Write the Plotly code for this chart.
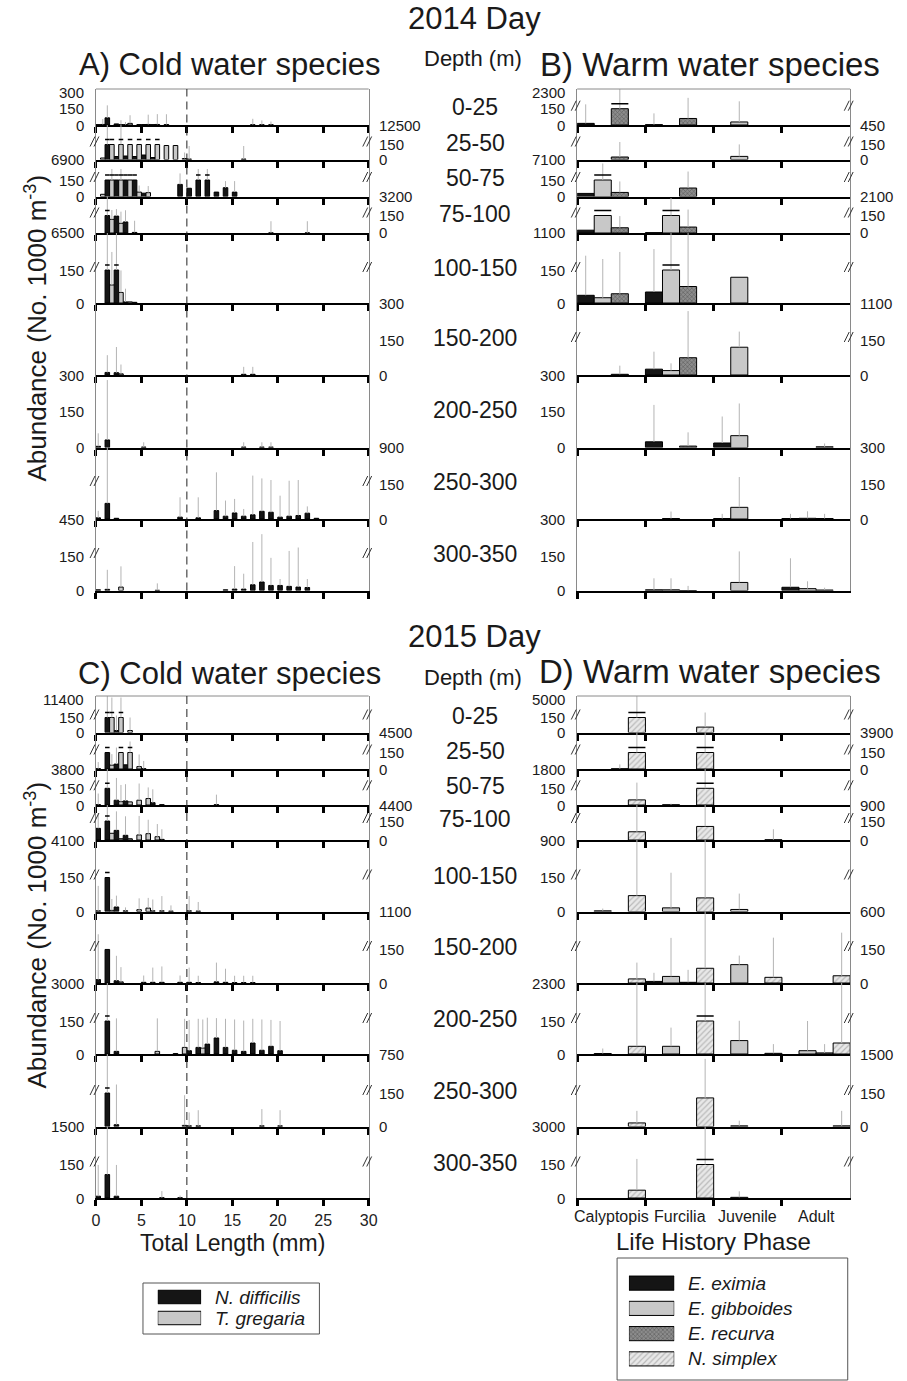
import plotly.graph_objects as go

# ---------------------------------------------------------------- data
DEPTHS = ["0-25", "25-50", "50-75", "75-100", "100-150", "150-200", "200-250", "250-300", "300-350"]
LENGTH_TICKS = [0, 5, 10, 15, 20, 25, 30]
PHASES = ["Calyptopis", "Furcilia", "Juvenile", "Adult"]
COLD_SPECIES = ["N. difficilis", "T. gregaria"]
WARM_SPECIES = ["E. eximia", "E. gibboides", "E. recurva", "N. simplex"]

# upper values of the broken axes (printed at the baseline of each depth row)
A_BREAK_LABELS = ["12500", "6900", "3200", "6500", "300", "300", "900", "450", None]
B_BREAK_LABELS = ["450", "7100", "2100", "1100", "1100", "300", "300", "300", None]
C_BREAK_LABELS = ["4500", "3800", "4400", "4100", "1100", "3000", "750", "1500", None]
D_BREAK_LABELS = ["3900", "1800", "900", "900", "600", "2300", "1500", "3000", None]
TOP_LABELS = {"A": "300", "B": "2300", "C": "11400", "D": "5000"}
BROKEN_A = [False, True, True, True, True, False, False, True, True]
BROKEN_B = [True, True, True, True, True, True, False, False, False]
BROKEN_C = [True] * 9
BROKEN_D = [True] * 9

# 2014 cold water species: {length bin (mm): abundance}, one dict per depth row
A_NDIF = [
    {0: 3, 1: 66, 2: 10, 3: 3, 5: 4, 6: 3, 17: 2, 18: 2, 19: 2},
    {1: 6900, 2: 30, 3: 35, 4: 30, 5: 45, 6: 20, 10: 5, 16: 5},
    {1: 3200, 2: 2500, 3: 1500, 4: 1200, 5: 30, 9: 110, 10: 75, 11: 900, 12: 800, 13: 40, 14: 80, 15: 40},
    {1: 6500, 2: 145, 3: 95, 4: 5, 19: 1, 23: 1},
    {1: 1500, 2: 1200, 3: 5, 4: 3},
    {1: 11, 2: 10, 16: 3, 17: 3},
    {0: 5, 1: 32, 5: 2, 16: 2, 18: 2, 19: 2},
    {0: 5, 1: 67, 2: 3, 9: 8, 11: 5, 13: 36, 14: 12, 15: 26, 16: 12, 17: 18, 18: 33, 19: 29,
     20: 8, 21: 12, 22: 15, 23: 25, 24: 3},
    {0: 3, 1: 5, 14: 3, 15: 6, 16: 6, 17: 25, 18: 37, 19: 22, 20: 22, 21: 18, 22: 15, 23: 13},
]
A_NDIF_SE = [
    {1: 115, 3: 25, 17: 55, 18: 40, 19: 30},
    {1: 300, 10: 130, 16: 130},
    {9: 100, 11: 100, 12: 100, 14: 60, 15: 100},
    {1: 200, 2: 60, 3: 100, 4: 100, 19: 100, 23: 100},
    {1: 300, 2: 200, 3: 60},
    {1: 74, 2: 110, 16: 32, 17: 32},
    {0: 55, 1: 253, 5: 20, 16: 20, 18: 20, 19: 20},
    {0: 30, 1: 300, 9: 85, 11: 88, 13: 164, 14: 67, 15: 60, 16: 31, 17: 168, 18: 141, 19: 138,
     20: 92, 21: 152, 22: 152, 23: 29},
    {1: 85, 15: 100, 16: 67, 17: 186, 18: 208, 19: 120, 20: 28, 21: 154, 22: 172, 23: 37},
]
A_TGRE = [
    {0: 5, 2: 4, 3: 15, 4: 4, 5: 5, 6: 5, 7: 4},
    {0: 15, 1: 2500, 2: 2800, 3: 2200, 4: 2000, 5: 2100, 6: 1800, 7: 140, 8: 140, 9: 10},
    {0: 20, 1: 600, 2: 1200, 3: 500, 4: 40, 5: 35},
    {1: 117, 2: 83},
    {1: 82, 2: 48, 3: 5},
    {2: 5},
    {},
    {},
    {2: 15, 6: 1},
]
A_TGRE_SE = [
    {0: 50, 2: 40, 3: 75, 5: 90, 6: 95, 7: 95},
    {2: 300, 9: 60},
    {1: 100, 2: 100, 4: 60, 5: 60},
    {1: 80, 2: 100},
    {1: 150, 2: 100},
    {2: 40},
    {},
    {},
    {2: 90, 6: 30},
]

# 2015 cold water species
C_NDIF = [
    {1: 5000, 2: 20},
    {0: 3, 1: 3800, 2: 45, 3: 38, 5: 3},
    {0: 3, 1: 4400, 2: 43, 3: 37, 6: 21, 7: 3, 13: 3},
    {0: 92, 1: 4100, 2: 76, 3: 37, 7: 5},
    {0: 3, 1: 1100, 2: 20, 3: 3, 6: 3, 7: 3, 8: 2, 10: 3, 11: 2},
    {0: 15, 1: 148, 2: 10, 5: 3, 6: 3, 7: 3, 9: 3, 10: 3, 11: 2, 13: 5, 14: 3, 15: 2, 16: 2, 17: 2},
    {1: 3000, 2: 12, 10: 15, 11: 30, 12: 45, 13: 73, 14: 30, 15: 17, 16: 12, 17: 50, 18: 17, 19: 35, 20: 15},
    {1: 1500, 2: 8, 10: 3, 11: 3, 18: 3, 20: 3},
    {0: 8, 1: 105, 2: 8, 7: 1, 9: 1},
]
C_NDIF_SE = [
    {1: 300, 2: 150},
    {0: 60, 2: 150, 5: 70},
    {0: 100, 1: 200, 2: 200, 3: 150, 6: 120, 13: 90},
    {0: 120, 1: 200, 2: 150, 3: 150, 7: 80},
    {0: 110, 2: 50, 3: 15, 6: 50, 7: 65, 8: 25, 10: 65, 11: 40},
    {0: 200, 2: 110, 5: 30, 6: 65, 7: 70, 9: 30, 10: 65, 11: 30, 13: 85, 14: 60, 15: 30, 16: 30, 17: 30},
    {1: 200, 2: 150, 10: 140, 11: 130, 12: 120, 13: 90, 14: 130, 15: 140, 16: 140, 17: 110, 18: 140,
     19: 120, 20: 135},
    {1: 200, 2: 180, 10: 60, 11: 70, 18: 75, 20: 70},
    {0: 140, 1: 250, 2: 140, 7: 30, 9: 10},
]
C_TGRE = [
    {1: 3000, 2: 2500, 3: 20},
    {1: 35, 2: 2000, 3: 1500, 4: 22},
    {2: 30, 3: 28, 4: 43, 5: 58},
    {1: 53, 2: 10, 3: 10, 4: 40, 5: 50, 6: 26},
    {1: 5, 4: 8, 5: 15},
    {2: 5},
    {6: 12, 8: 2, 9: 30, 11: 27},
    {9: 5},
    {},
]
C_TGRE_SE = [
    {1: 200, 2: 200, 3: 130},
    {1: 100, 3: 100, 4: 110},
    {2: 150, 4: 150, 5: 100},
    {4: 150, 5: 110, 6: 100},
    {1: 50, 4: 50, 5: 45},
    {2: 65},
    {6: 150, 9: 130, 11: 130},
    {9: 135},
    {},
]

# 2014 warm water species: rows = depth, columns = Calyptopis, Furcilia, Juvenile, Adult
B_EXIM = [[15, 3, 0, 0], [0, 0, 0, 0], [28, 0, 0, 0], [24, 3, 0, 0], [35, 50, 0, 0],
          [0, 25, 0, 0], [0, 24, 19, 0], [0, 0, 2, 2], [0, 3, 0, 14]]
B_EXIM_SE = [[175, 104, 0, 0], [0, 0, 0, 0], [0, 0, 0, 0], [0, 0, 0, 0], [180, 195, 0, 0],
             [0, 75, 0, 0], [0, 156, 112, 0], [0, 0, 20, 20], [0, 50, 0, 126]]
B_GIBB = [[0, 0, 28, 0], [0, 0, 31, 0], [900, 0, 0, 0], [700, 600, 0, 0], [24, 400, 117, 0],
          [0, 19, 119, 0], [0, 0, 50, 0], [0, 2, 50, 3], [0, 3, 35, 8]]
B_GIBB_SE = [[0, 0, 190, 0], [0, 0, 120, 0], [150, 0, 0, 0], [0, 150, 0, 0], [176, 300, 0, 0],
             [0, 31, 67, 0], [0, 0, 136, 0], [0, 30, 130, 30], [0, 50, 135, 32]]
B_RECU = [[600, 60, 0, 0], [25, 0, 0, 0], [37, 77, 0, 0], [45, 51, 0, 0], [42, 75, 0, 0],
          [3, 74, 0, 0], [0, 6, 0, 3], [0, 0, 0, 2], [0, 0, 0, 2]]
B_RECU_SE = [[300, 190, 0, 0], [150, 0, 0, 0], [100, 150, 0, 0], [100, 150, 0, 0], [190, 300, 0, 0],
             [37, 200, 0, 0], [0, 58, 0, 14], [0, 0, 0, 20], [0, 20, 0, 10]]
B_SIMP = [[0, 0, 0, 0] for _ in range(9)]
B_SIMP_SE = [[0, 0, 0, 0] for _ in range(9)]

# 2015 warm water species
D_EXIM = [[0, 0, 0, 0], [0, 0, 0, 0], [0, 0, 0, 0], [0, 0, 0, 0], [0, 0, 0, 0],
          [0, 7, 0, 0], [0, 0, 0, 0], [0, 0, 0, 0], [0, 0, 0, 0]]
D_EXIM_SE = [[0, 0, 0, 0], [0, 0, 0, 0], [0, 0, 0, 0], [0, 0, 0, 0], [0, 0, 0, 0],
             [0, 38, 0, 0], [0, 0, 0, 0], [0, 0, 0, 0], [0, 0, 0, 0]]
D_GIBB = [[0, 0, 0, 0], [0, 0, 0, 0], [0, 2, 0, 0], [0, 0, 0, 0], [3, 16, 9, 0],
          [0, 29, 81, 0], [2, 35, 61, 15], [0, 0, 3, 0], [0, 0, 3, 0]]
D_GIBB_SE = [[0, 0, 0, 0], [0, 0, 0, 0], [0, 10, 0, 0], [0, 0, 0, 0], [10, 155, 70, 0],
             [0, 170, 40, 0], [23, 85, 90, 135], [0, 0, 23, 0], [0, 0, 27, 0]]
D_RECU = [[0, 0, 0, 0], [2, 0, 0, 0], [0, 0, 0, 0], [0, 0, 0, 0], [0, 0, 0, 0],
          [0, 3, 0, 0], [0, 0, 0, 5], [0, 0, 0, 0], [0, 0, 0, 0]]
D_RECU_SE = [[0, 0, 0, 0], [40, 0, 0, 0], [0, 0, 0, 0], [0, 0, 0, 0], [0, 0, 0, 0],
             [0, 55, 0, 0], [0, 0, 0, 40], [0, 0, 0, 0], [0, 0, 0, 0]]
D_SIMP = [[600, 54, 0, 0], [1800, 1500, 0, 0], [46, 900, 0, 0], [65, 107, 2, 0], [70, 60, 0, 0],
          [18, 65, 25, 32], [35, 900, 3, 50], [16, 128, 0, 3], [35, 1000, 0, 0]]
D_SIMP_SE = [[300, 146, 0, 0], [200, 200, 0, 0], [155, 200, 0, 0], [300, 300, 83, 0], [300, 300, 0, 0],
             [72, 300, 175, 190], [300, 300, 42, 300], [54, 175, 0, 67], [140, 200, 0, 0]]

# ---------------------------------------------------------------- layout geometry (pixels)
W, H = 907, 1381
FONT = "Arial, Liberation Sans, sans-serif"
TOP_FRAME, BOT_FRAME = 89, 696
TOP_BASE = [125, 159.5, 196.5, 233, 303, 375, 447.5, 519, 590.5]
TOP_Y150 = [108.7, 144.5, 180, 215.5, 270, 340, 412, 484, 556]
BOT_BASE = [732.5, 769, 805, 840, 911.5, 983, 1054, 1126.5, 1198]
BOT_Y150 = [717.5, 752.5, 788.3, 821, 877.5, 949, 1021, 1093, 1164.5]
COLD_X = (93.3, 370)
WARM_X = (581.5, 858.5)

BAR_LINE = dict(color="black", width=1)
STYLES = {
    "N. difficilis": dict(color="#151515", line=BAR_LINE),
    "T. gregaria": dict(color="#c8c8c8", line=BAR_LINE),
    "E. eximia": dict(color="#151515", line=BAR_LINE),
    "E. gibboides": dict(color="#c8c8c8", line=BAR_LINE),
    "E. recurva": dict(color="#6a6a6a", line=BAR_LINE,
                       pattern=dict(shape="x", fgcolor="#2b2b2b", bgcolor="#8c8c8c", size=3, solidity=0.35)),
    "N. simplex": dict(color="#dcdcdc", line=BAR_LINE,
                       pattern=dict(shape="/", fgcolor="#8a8a8a", bgcolor="#e8e8e8", size=4, solidity=0.3)),
}
ERR = dict(color="#b4b4b4", thickness=1, width=0)

fig = go.Figure()
axes = {}
ann = []
shapes = []
counter = [0]


def text(s, xpx, ypx, size, xanchor="center", yanchor="middle", angle=0, color="#1a1a1a"):
    ann.append(dict(text=s, x=xpx / W, y=1 - ypx / H, xref="paper", yref="paper", showarrow=False,
                    xanchor=xanchor, yanchor=yanchor, textangle=angle,
                    font=dict(family=FONT, size=size, color=color)))


def hline(x0, x1, y, color="#8a8a8a", width=1):
    shapes.append(dict(type="line", xref="paper", yref="paper", x0=x0 / W, x1=x1 / W,
                       y0=1 - y / H, y1=1 - y / H, line=dict(color=color, width=width)))


def break_mark(xpx, ypx):
    for d in (0, 4):
        shapes.append(dict(type="line", xref="paper", yref="paper",
                           x0=(xpx - 6 + d) / W, y0=1 - (ypx + 5) / H,
                           x1=(xpx - 1 + d) / W, y1=1 - (ypx - 5) / H,
                           line=dict(color="#333", width=1)))


def new_axes(x0, x1, base, top, ymax, xrange, tickvals, ticklabels=False):
    counter[0] += 1
    k = counter[0]
    s = "" if k == 1 else str(k)
    axes["xaxis" + s] = dict(domain=[x0 / W, x1 / W], anchor="y" + s, range=xrange,
                             showline=True, linecolor="black", linewidth=2, ticks="outside",
                             ticklen=6, tickwidth=3, tickcolor="black", tickvals=tickvals,
                             showticklabels=ticklabels, showgrid=False, zeroline=False,
                             tickfont=dict(family=FONT, size=16, color="#222"),
                             ticklabelstandoff=1, fixedrange=True)
    axes["yaxis" + s] = dict(domain=[1 - base / H, 1 - top / H], anchor="x" + s, range=[0, ymax],
                             showline=True, mirror=True, linecolor="#8a8a8a", linewidth=1,
                             ticks="", showticklabels=False, showgrid=False, zeroline=False,
                             fixedrange=True)
    return "x" + s, "y" + s


def row_labels(x0, x1, r, base, y150, frame, brk_labels, top_label, broken):
    L, R = x0 - 10, x1 + 8
    if r % 2 == 0:
        text("150", L, y150, 15, xanchor="right")
        text("0", L, base, 15, xanchor="right")
        if brk_labels[r]:
            text(brk_labels[r], R, base, 15, xanchor="left")
    else:
        text(brk_labels[r], L, base, 15, xanchor="right")
        text("150", R, y150, 15, xanchor="left")
        text("0", R, base, 15, xanchor="left")
    if r == 0:
        text(top_label, L, frame + 3.5, 15, xanchor="right")
    if broken[r]:
        break_mark(x0, y150 - 3)
        break_mark(x1, y150 - 3)


def add_series(xa, ya, xs, vals, errs, width, style, broken, capx, capy, capv):
    shown = []
    for x, v in zip(xs, vals):
        if broken and v > 160:
            shown.append(150)
            capx.extend([x - width / 2, x + width / 2, None])
            capy.extend([capv, capv, None])
        else:
            shown.append(v)
    fig.add_trace(go.Bar(x=xs, y=shown, width=width, xaxis=xa, yaxis=ya, marker=style,
                         error_y=dict(type="data", symmetric=False, array=errs,
                                      arrayminus=[0] * len(errs), **ERR),
                         showlegend=False, hoverinfo="skip"))


def add_caps(xa, ya, capx, capy):
    if capx:
        fig.add_trace(go.Scatter(x=capx, y=capy, xaxis=xa, yaxis=ya, mode="lines",
                                 line=dict(color="black", width=1.6), showlegend=False,
                                 hoverinfo="skip"))


def cold_panel(frame, bases, y150s, series, broken, brk_labels, top_label, ticklabels):
    x0, x1 = COLD_X
    first = None
    for r in range(9):
        base, top = bases[r], (frame if r == 0 else bases[r - 1])
        ppu = (base - y150s[r]) / 150.0
        xa, ya = new_axes(x0, x1, base, top, (base - top) / ppu, [0, 30], LENGTH_TICKS,
                          ticklabels and r == 8)
        first = first or xa
        capx, capy = [], []
        for (name, vals, errs), off in zip(series, (0.0, 0.5)):
            bins = sorted(set(vals[r]) | set(errs[r]))
            if bins:
                add_series(xa, ya, [b + off + 0.25 for b in bins], [vals[r].get(b, 0) for b in bins],
                           [errs[r].get(b, 0) for b in bins], 0.5, STYLES[name], broken[r],
                           capx, capy, 150 + 5 / ppu)
        add_caps(xa, ya, capx, capy)
        row_labels(x0, x1, r, base, y150s[r], frame, brk_labels, top_label, broken)
    hline(x0, x1, frame)
    shapes.append(dict(type="line", xref=first, yref="paper", x0=10, x1=10,
                       y0=1 - bases[8] / H, y1=1 - frame / H,
                       line=dict(color="#222", width=1, dash="8px,5px")))


def warm_panel(frame, bases, y150s, series, broken, brk_labels, top_label, phase_labels):
    x0, x1 = WARM_X
    for r in range(9):
        base, top = bases[r], (frame if r == 0 else bases[r - 1])
        ppu = (base - y150s[r]) / 150.0
        xa, ya = new_axes(x0, x1, base, top, (base - top) / ppu, [0, 4], [0, 1, 2, 3])
        capx, capy = [], []
        for j, (name, vals, errs) in enumerate(series):
            idx = [k for k in range(4) if vals[r][k] > 0 or errs[r][k] > 0]
            if idx:
                add_series(xa, ya, [k + 0.125 + 0.25 * j for k in idx], [vals[r][k] for k in idx],
                           [errs[r][k] for k in idx], 0.25, STYLES[name], broken[r],
                           capx, capy, 150 + 5 / ppu)
        add_caps(xa, ya, capx, capy)
        row_labels(x0, x1, r, base, y150s[r], frame, brk_labels, top_label, broken)
        if phase_labels and r == 8:
            for k, ph in enumerate(PHASES):
                ann.append(dict(text=ph, x=k + 0.5, y=1 - 1216.7 / H, xref=xa, yref="paper",
                                showarrow=False, xanchor="center", yanchor="middle",
                                font=dict(family=FONT, size=16, color="#1a1a1a")))
    hline(x0, x1, frame)


cold_panel(TOP_FRAME, TOP_BASE, TOP_Y150,
           [("N. difficilis", A_NDIF, A_NDIF_SE), ("T. gregaria", A_TGRE, A_TGRE_SE)],
           BROKEN_A, A_BREAK_LABELS, TOP_LABELS["A"], False)
warm_panel(TOP_FRAME, TOP_BASE, TOP_Y150,
           [("E. eximia", B_EXIM, B_EXIM_SE), ("E. gibboides", B_GIBB, B_GIBB_SE),
            ("E. recurva", B_RECU, B_RECU_SE), ("N. simplex", B_SIMP, B_SIMP_SE)],
           BROKEN_B, B_BREAK_LABELS, TOP_LABELS["B"], False)
cold_panel(BOT_FRAME, BOT_BASE, BOT_Y150,
           [("N. difficilis", C_NDIF, C_NDIF_SE), ("T. gregaria", C_TGRE, C_TGRE_SE)],
           BROKEN_C, C_BREAK_LABELS, TOP_LABELS["C"], True)
warm_panel(BOT_FRAME, BOT_BASE, BOT_Y150,
           [("E. eximia", D_EXIM, D_EXIM_SE), ("E. gibboides", D_GIBB, D_GIBB_SE),
            ("E. recurva", D_RECU, D_RECU_SE), ("N. simplex", D_SIMP, D_SIMP_SE)],
           BROKEN_D, D_BREAK_LABELS, TOP_LABELS["D"], True)

# depth labels
text("Depth (m)", 476, 59, 22)
text("Depth (m)", 476, 677, 22)
for r, d in enumerate(DEPTHS):
    text(d, 478, TOP_Y150[r] - 2, 23)
    text(d, 478, BOT_Y150[r] - 2, 23)

# titles
text("2014 Day", 477, 18, 31)
text("2015 Day", 477, 636, 31)
text("A) Cold water species", 229, 64, 31)
text("B) Warm water species", 716, 64, 33)
text("C) Cold water species", 229, 673, 31)
text("D) Warm water species", 716, 671, 33)
ytitle = "Abundance (No. 1000 m<sup>-3</sup>)"
text(ytitle, 32, 328, 26, angle=-90)
text(ytitle, 32, 935, 26, angle=-90)
text("Total Length (mm)", 231.7, 1243, 23)
text("Life History Phase", 720, 1241, 24)


# ---------------------------------------------------------------- legends (swatches drawn as bars)
def legend_block(names, sx0, sx1, ytop, ybot, thickness, tx):
    counter[0] += 1
    s = str(counter[0])
    n = len(names)
    axes["xaxis" + s] = dict(domain=[sx0 / W, sx1 / W], anchor="y" + s, range=[0, 1], visible=False,
                             fixedrange=True)
    axes["yaxis" + s] = dict(domain=[1 - ybot / H, 1 - ytop / H], anchor="x" + s,
                             range=[-0.5, n - 0.5], visible=False, fixedrange=True)
    step = (ybot - ytop) / n
    for i, name in enumerate(names):
        fig.add_trace(go.Bar(x=[1], y=[n - 1 - i], orientation="h", width=thickness,
                             marker=STYLES[name], xaxis="x" + s, yaxis="y" + s,
                             showlegend=False, hoverinfo="skip"))
        text("<i>%s</i>" % name, tx, ytop + step * (i + 0.5), 19, xanchor="left")


legend_block(COLD_SPECIES, 156, 200, 1286.5, 1328.5, 0.64, 212)
legend_block(WARM_SPECIES, 634, 680, 1270.5, 1371.5, 0.56, 692)
for (lx0, ly0, lx1, ly1) in ((141, 1283, 320, 1334), (622, 1258, 856, 1380)):
    shapes.append(dict(type="rect", xref="paper", yref="paper", x0=lx0 / W, x1=lx1 / W,
                       y0=1 - ly1 / H, y1=1 - ly0 / H, line=dict(color="#555", width=1)))

fig.update_layout(width=W, height=H, margin=dict(l=0, r=0, t=0, b=0),
                  paper_bgcolor="white", plot_bgcolor="rgba(0,0,0,0)", barmode="overlay",
                  showlegend=False, annotations=ann, shapes=shapes, **axes)
fig.write_html("out.html")
